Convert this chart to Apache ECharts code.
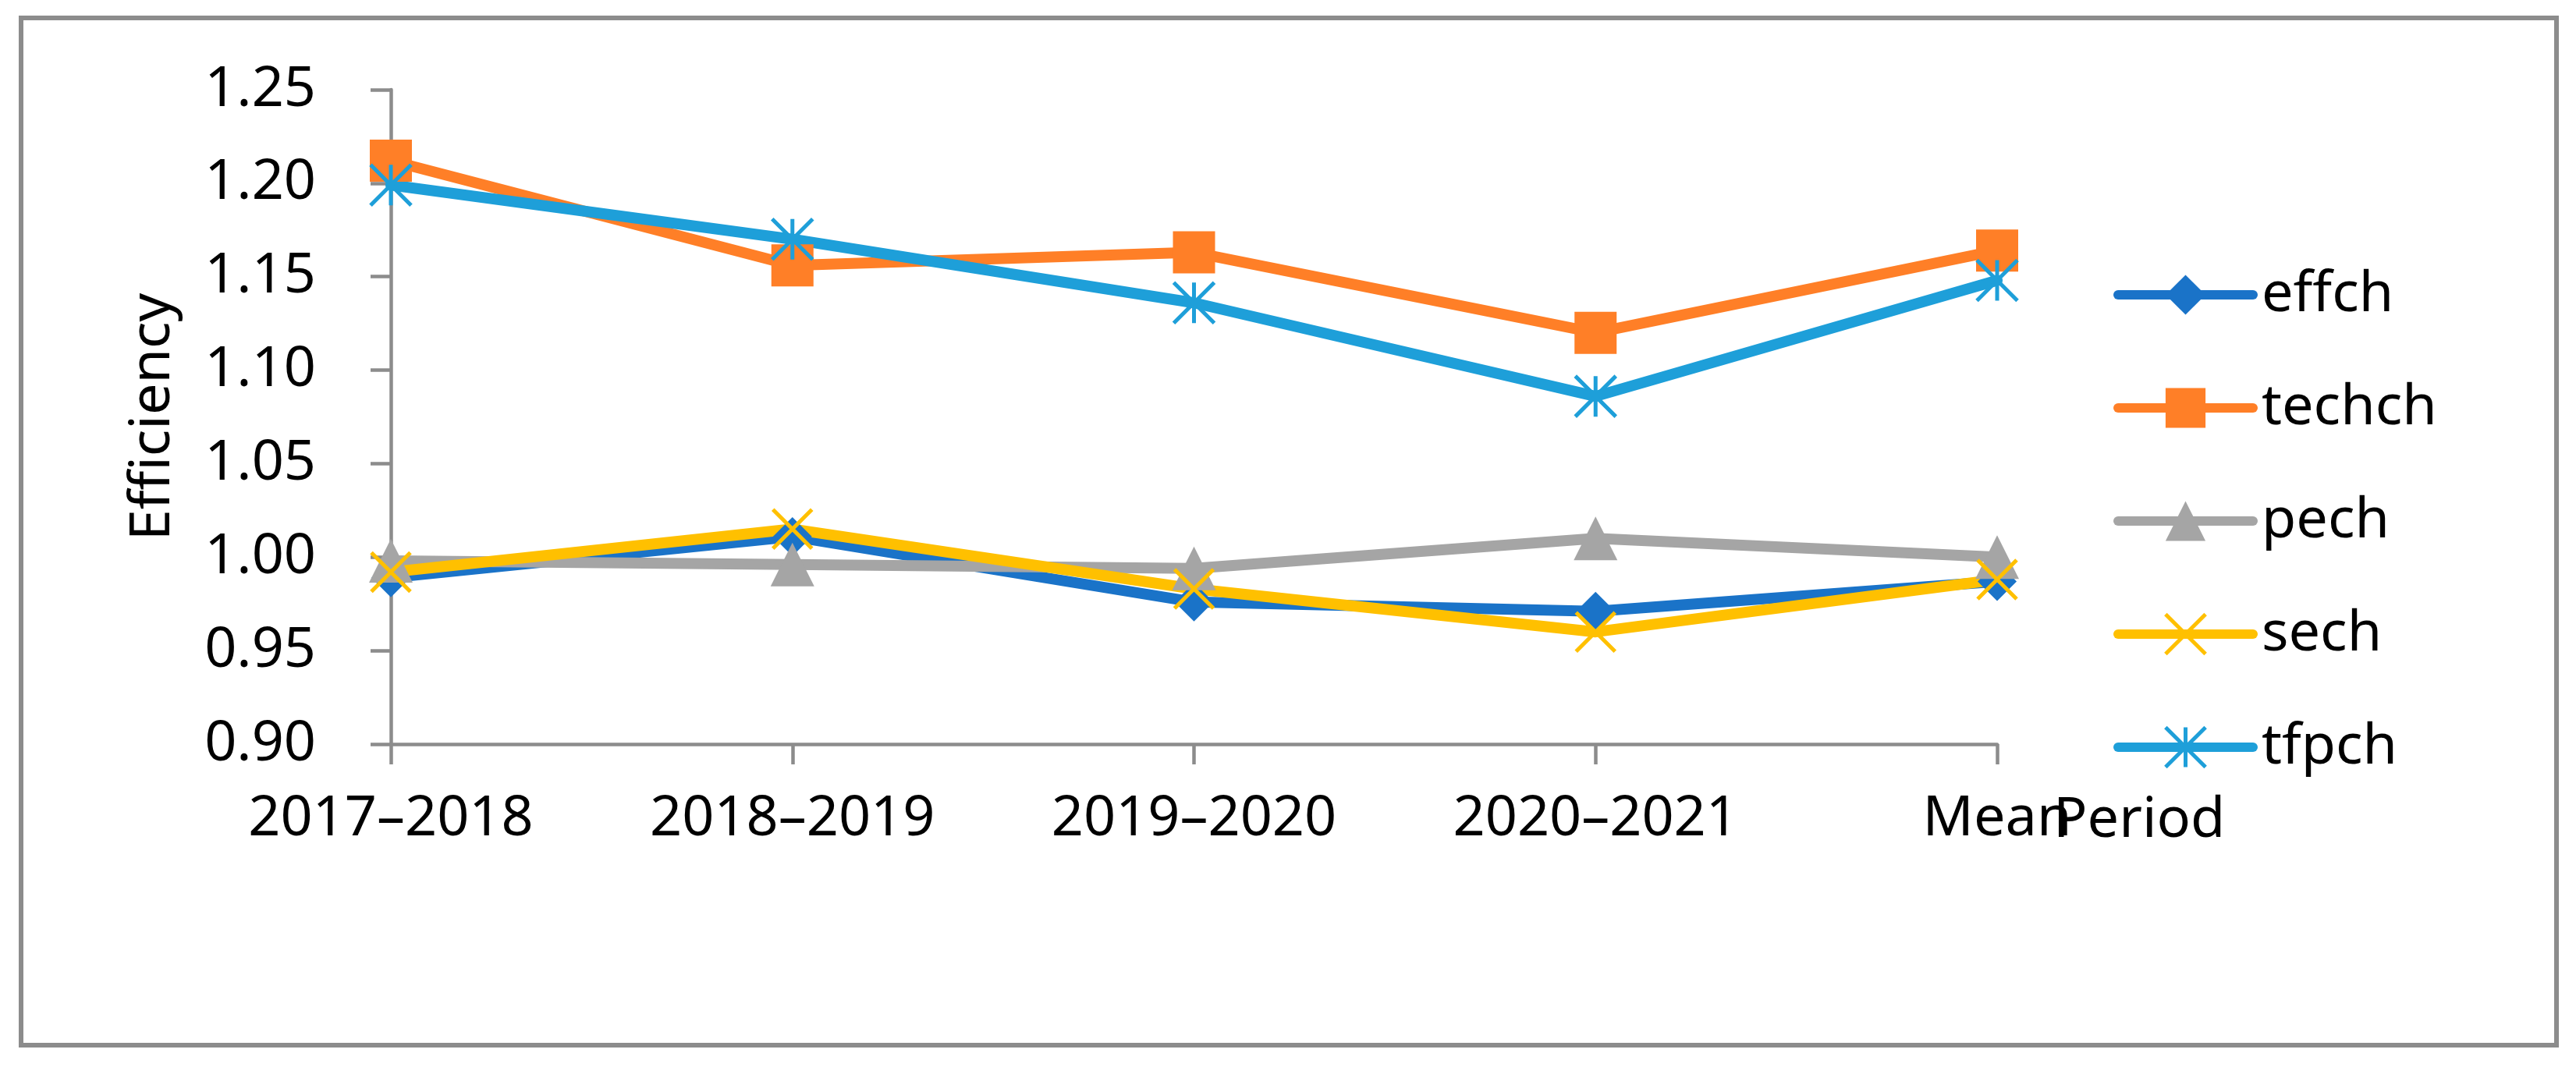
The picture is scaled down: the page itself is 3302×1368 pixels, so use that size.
<!DOCTYPE html>
<html>
<head>
<meta charset="utf-8">
<script src="https://cdn.jsdelivr.net/npm/echarts@6/dist/echarts.min.js"></script>
<style>
html,body{margin:0;padding:0;background:#fff;}
#chart{width:3302px;height:1368px;}
</style>
</head>
<body>
<div id="chart"></div>
<script>
const categories = ['2017–2018', '2018–2019', '2019–2020', '2020–2021', 'Mean'];
const effch  = [0.989, 1.011, 0.976, 0.971, 0.987];
const techch = [1.212, 1.156, 1.163, 1.120, 1.164];
const pech   = [0.998, 0.996, 0.994, 1.010, 1.000];
const sech   = [0.992, 1.015, 0.983, 0.960, 0.988];
const tfpch  = [1.199, 1.170, 1.136, 1.086, 1.148];
const seriesNames = ['effch', 'techch', 'pech', 'sech', 'tfpch'];
const yMin = 0.90, yMax = 1.25, yStep = 0.05;

const colors = {
  effch: '#1A73C8',
  techch: '#FF7F27',
  pech: '#A5A5A5',
  sech: '#FFC000',
  tfpch: '#1E9FD9'
};
const FONT = 'Noto Sans';
const XMARK = 'path://M0,0L10,10M10,0L0,10';
const ASTER = 'path://M0,0L10,10M10,0L0,10M5,0L5,10';

const symbolDefs = {
  effch:  {symbol: 'diamond', size: 50, stroke: 0},
  techch: {symbol: 'rect', size: 54, stroke: 0},
  pech:   {symbol: 'triangle', size: 56, stroke: 0},
  sech:   {symbol: XMARK, size: 50, stroke: 5},
  tfpch:  {symbol: ASTER, size: 52, stroke: 5}
};
const dataMap = {effch, techch, pech, sech, tfpch};

const series = seriesNames.map(n => ({
  name: n,
  type: 'line',
  data: dataMap[n],
  symbol: symbolDefs[n].symbol,
  symbolSize: symbolDefs[n].size,
  showAllSymbol: true,
  lineStyle: {color: colors[n], width: 14, cap: 'round', join: 'round'},
  itemStyle: {color: colors[n], borderColor: colors[n], borderWidth: symbolDefs[n].stroke},
  emphasis: {disabled: true},
  z: 2
}));

const chart = echarts.init(document.getElementById('chart'), null, {renderer: 'canvas'});
chart.setOption({
  animation: false,
  backgroundColor: '#ffffff',
  graphic: [{
    type: 'rect',
    shape: {x: 27, y: 23, width: 3250, height: 1317},
    style: {fill: 'none', stroke: '#8C8C8C', lineWidth: 6},
    silent: true
  }],
  grid: {left: 501, top: 115, width: 2059, height: 839, containLabel: false},
  legend: {
    orient: 'vertical',
    left: 2704,
    top: 337,
    itemWidth: 173,
    itemHeight: 64,
    itemGap: 73,
    textStyle: {fontFamily: FONT, fontSize: 72, color: '#000', padding: [0, 0, 0, 6]},
    lineStyle: {width: 12, cap: 'round'},
    data: seriesNames.map(n => ({
      name: n,
      itemStyle: {borderWidth: symbolDefs[n].stroke, borderColor: colors[n]}
    }))
  },
  xAxis: {
    type: 'category',
    data: categories,
    boundaryGap: false,
    name: 'Period',
    nameLocation: 'end',
    nameGap: 72,
    nameMoveOverlap: false,
    nameTextStyle: {fontFamily: FONT, fontSize: 72, color: '#000', verticalAlign: 'top', lineHeight: 196},
    axisLine: {lineStyle: {color: '#8C8C8C', width: 4.5}},
    axisTick: {show: true, length: 26, lineStyle: {color: '#8C8C8C', width: 4.5}},
    axisLabel: {fontFamily: FONT, fontSize: 72, color: '#000', margin: 60, interval: 0},
    splitLine: {show: false}
  },
  yAxis: {
    type: 'value',
    min: yMin,
    max: yMax,
    interval: yStep,
    name: 'Efficiency',
    nameLocation: 'middle',
    nameGap: 269,
    nameMoveOverlap: false,
    nameTextStyle: {fontFamily: FONT, fontSize: 72, color: '#000'},
    axisLine: {show: true, lineStyle: {color: '#8C8C8C', width: 4.5}},
    axisTick: {show: true, length: 26, lineStyle: {color: '#8C8C8C', width: 4.5}},
    axisLabel: {fontFamily: FONT, fontSize: 72, color: '#000', margin: 96, formatter: v => v.toFixed(2)},
    splitLine: {show: false}
  },
  series: series
});
</script>
</body>
</html>
